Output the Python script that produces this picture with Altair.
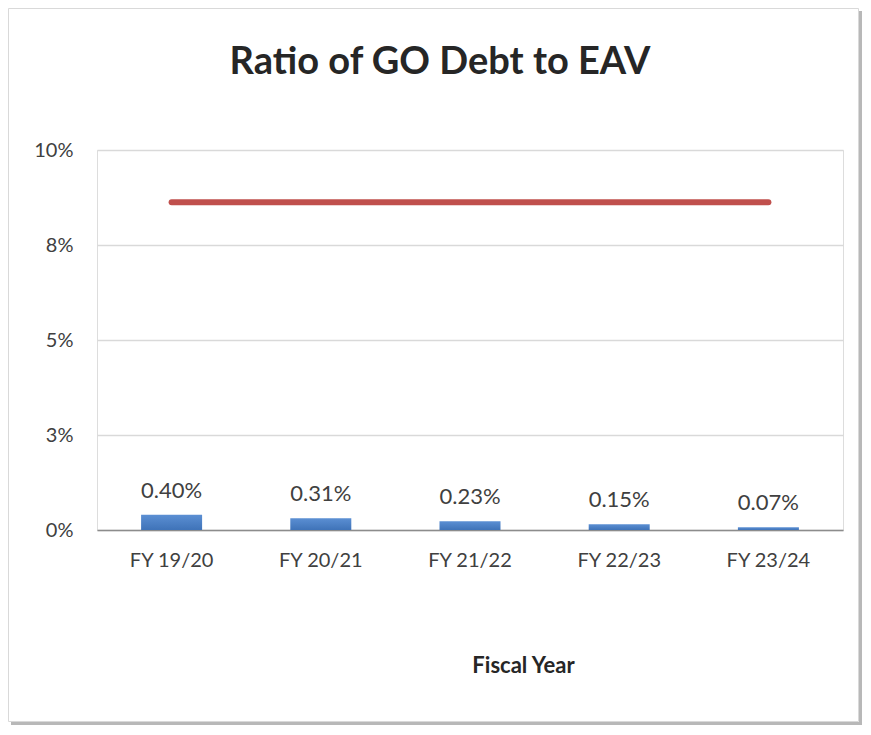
import altair as alt
import pandas as pd

years = ["FY 19/20", "FY 20/21", "FY 21/22", "FY 22/23", "FY 23/24"]
ratios = [0.0040, 0.0031, 0.0023, 0.0015, 0.0007]
limits = [0.08625, 0.08625, 0.08625, 0.08625, 0.08625]
y_ticks = [0, 0.025, 0.05, 0.075, 0.1]
y_tick_labels = ["0%", "3%", "5%", "8%", "10%"]

df = pd.DataFrame({"year": years, "ratio": ratios, "limit": limits})
one = pd.DataFrame({"k": [0]})

FONT = "Lato"
label_expr = "{" + ",".join(f"'{v}':'{l}'" for v, l in zip(y_ticks, y_tick_labels)) + "}[datum.value]"

x = alt.X(
    "year:N", sort=years, title="Fiscal Year",
    axis=alt.Axis(
        labelAngle=0, labelFontSize=20, labelFont=FONT, labelColor="#404040",
        labelPadding=20, ticks=False, domainColor="#8c8c8c", domainWidth=1.5,
        grid=False, titleFont=FONT, titleFontSize=22, titleFontWeight="bold",
        titleColor="#262626", titleX=426, titleY=135, titleBaseline="middle",
        titleAnchor="start", titleAlign="center",
    ),
)
y = alt.Y(
    "ratio:Q", scale=alt.Scale(domain=[0, 0.1], nice=False),
    axis=alt.Axis(
        values=y_ticks, labelExpr=label_expr, title=None, domain=False, ticks=False,
        grid=True, gridColor="#d9d9d9", gridWidth=1.5, labelFontSize=20,
        labelFont=FONT, labelColor="#404040", labelPadding=24,
    ),
)

bars = alt.Chart(df).mark_bar(
    size=61,
    color=alt.Gradient(
        gradient="linear", x1=0, x2=0, y1=0, y2=1,
        stops=[alt.GradientStop(color="#5b8fd3", offset=0),
               alt.GradientStop(color="#3f73b8", offset=1)],
    ),
).encode(x=x, y=y)

labels = alt.Chart(df).mark_text(
    dy=-17, baseline="alphabetic", fontSize=22, font=FONT, color="#404040"
).encode(x=x, y=y, text=alt.Text("ratio:Q", format=".2%"))

line = alt.Chart(df).mark_line(
    color="#c0504d", strokeWidth=6, strokeCap="round"
).encode(x=x, y="limit:Q")

shadow_r = alt.Chart(one).mark_rect(color="#b8b8b8").encode(
    x=alt.value(762), x2=alt.value(765), y=alt.value(-139), y2=alt.value(575))
shadow_b = alt.Chart(one).mark_rect(color="#b8b8b8").encode(
    x=alt.value(-86), x2=alt.value(765), y=alt.value(572), y2=alt.value(575))
frame = alt.Chart(one).mark_rect(fill=None, stroke="#d9d9d9", strokeWidth=1).encode(
    x=alt.value(-88.5), x2=alt.value(761.5), y=alt.value(-141.5), y2=alt.value(571.5))

chart = alt.layer(shadow_r, shadow_b, frame, bars, line, labels).properties(
    width=746, height=380,
    autosize=alt.AutoSizeParams(type="none"),
    padding={"left": 89, "top": 142, "right": 20, "bottom": 197},
    title=alt.TitleParams(
        "Ratio of GO Debt to EAV", fontSize=38, font=FONT, fontWeight="bold",
        color="#262626", anchor="middle", frame="group", dx=-30, offset=-104,
        baseline="alphabetic",
    ),
).configure_view(stroke=None).configure(background="white")

chart.save("out.html", embed_options={"renderer": "svg", "actions": False})
